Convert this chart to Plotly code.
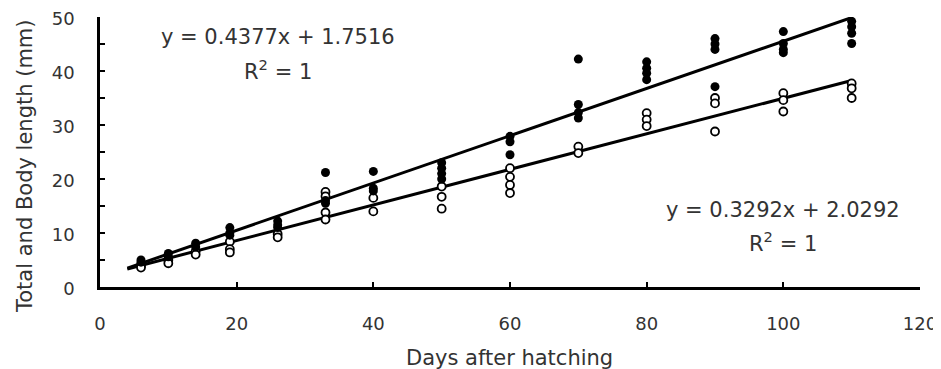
import plotly.graph_objects as go

# ---- data ----
days = [6, 10, 14, 19, 26, 33, 40, 50, 60, 70, 80, 90, 100, 110]

total_length = [
    [5.0, 4.6],
    [6.2, 5.6],
    [8.1, 7.4],
    [11.0, 10.0, 9.6],
    [12.2, 11.5, 11.0],
    [21.2, 16.0, 15.5],
    [21.4, 18.3, 17.8],
    [23.0, 22.0, 21.0, 20.0],
    [27.9, 26.9, 24.5],
    [42.2, 33.8, 32.3, 31.3],
    [41.7, 40.5, 39.6, 38.4],
    [46.0, 45.0, 44.0, 37.1],
    [47.3, 45.1, 44.0, 43.4],
    [49.2, 48.2, 47.0, 45.1],
]

body_length = [
    [4.0, 3.6],
    [5.0, 4.4],
    [6.6, 6.0],
    [8.4, 7.0, 6.4],
    [9.8, 9.2],
    [17.6, 16.8, 13.8, 12.5],
    [16.5, 14.0],
    [18.6, 16.7, 14.5],
    [22.0, 20.4, 18.9, 17.4],
    [26.0, 24.8],
    [32.2, 31.0, 29.8],
    [35.0, 34.0, 28.8],
    [35.9, 34.6, 32.5],
    [37.7, 36.8, 35.0],
]

total_fit = (0.4377, 1.7516)
body_fit = (0.3292, 2.0292)
fit_x = [4, 110]

x_ticks = [0, 20, 40, 60, 80, 100, 120]
y_ticks = [0, 10, 20, 30, 40, 50]

x_title = "Days after hatching"
y_title = "Total and Body length (mm)"

FONT = "DejaVu Sans"
TXT = "#333333"


def flatten(groups):
    xs, ys = [], []
    for d, vals in zip(days, groups):
        for v in vals:
            xs.append(d)
            ys.append(v)
    return xs, ys


fig = go.Figure()

tx, ty = flatten(total_length)
bx, by = flatten(body_length)

fig.add_trace(go.Scatter(
    x=fit_x, y=[total_fit[0] * x + total_fit[1] for x in fit_x],
    mode="lines", line=dict(color="black", width=3), showlegend=False))
fig.add_trace(go.Scatter(
    x=fit_x, y=[body_fit[0] * x + body_fit[1] for x in fit_x],
    mode="lines", line=dict(color="black", width=3), showlegend=False))

fig.add_trace(go.Scatter(
    x=bx, y=by, mode="markers",
    marker=dict(symbol="circle", size=8, color="white",
                line=dict(color="black", width=1.8)),
    showlegend=False))
fig.add_trace(go.Scatter(
    x=tx, y=ty, mode="markers",
    marker=dict(symbol="circle", size=9, color="black",
                line=dict(color="black", width=0)),
    showlegend=False))

annots = [
    dict(text="y = 0.4377x + 1.7516", x=26.0, y=46.3),
    dict(text="R<sup>2</sup> = 1", x=26.0, y=40.2),
    dict(text="y = 0.3292x + 2.0292", x=100.0, y=14.3),
    dict(text="R<sup>2</sup> = 1", x=100.0, y=8.4),
]
for a in annots:
    fig.add_annotation(x=a["x"], y=a["y"], xref="x", yref="y", text=a["text"],
                       showarrow=False, xanchor="center", yanchor="middle",
                       font=dict(family=FONT, size=21, color=TXT))

fig.add_annotation(text=x_title, x=0.499, y=-0.263, xref="paper", yref="paper",
                   showarrow=False, xanchor="center", yanchor="middle",
                   font=dict(family=FONT, size=21, color=TXT))
fig.add_annotation(text=y_title, x=-0.0915, y=0.448, xref="paper", yref="paper",
                   showarrow=False, textangle=-90, xanchor="center", yanchor="middle",
                   font=dict(family=FONT, size=21, color=TXT))

# the page body adds an 8px offset; shift margins so the plot area lands
# at x 100..920 and y 17..287 of the window
fig.update_layout(
    width=941, height=369,
    margin=dict(l=92, r=29, t=9, b=90),
    plot_bgcolor="white", paper_bgcolor="white",
    font=dict(family=FONT, size=18, color=TXT),
    xaxis=dict(range=[0, 120], tickvals=x_ticks, showgrid=False, zeroline=False,
               showline=True, linecolor="black", linewidth=2.5, automargin=False,
               ticks="inside", ticklen=5, tickcolor="black", tickwidth=2,
               ticklabelstandoff=19, ticklabeloverflow="allow",
               tickfont=dict(size=18, family=FONT, color=TXT)),
    yaxis=dict(range=[0, 50], tickvals=y_ticks, showgrid=False, zeroline=False,
               showline=True, linecolor="black", linewidth=2.5, automargin=False,
               ticks="inside", ticklen=5, tickcolor="black", tickwidth=2,
               ticklabelstandoff=19, ticklabeloverflow="allow", ticklabelshift=2,
               minor=dict(dtick=5, ticks="inside", ticklen=5, tickcolor="black", tickwidth=2),
               tickfont=dict(size=18, family=FONT, color=TXT)),
)

fig.write_html("out.html")
